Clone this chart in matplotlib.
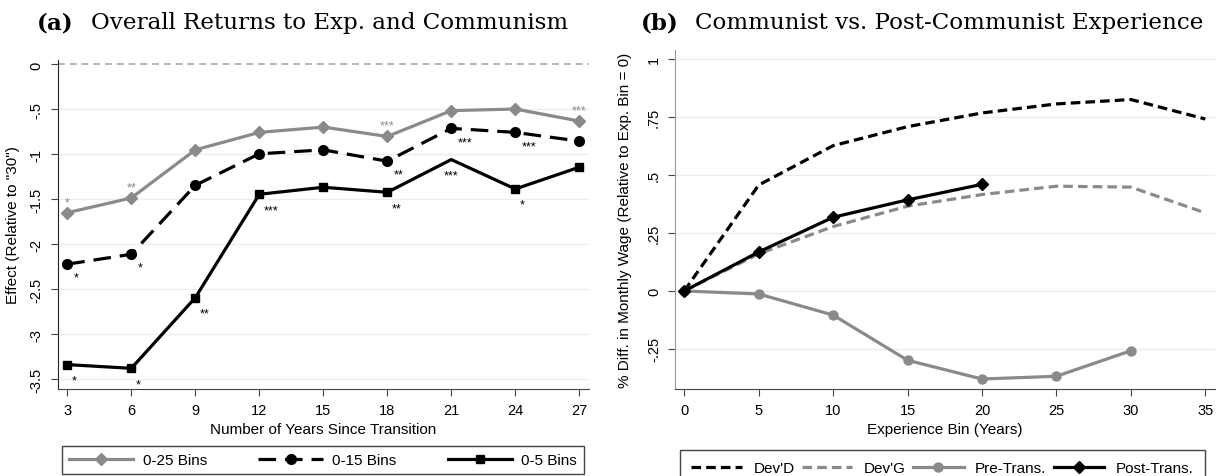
import matplotlib
matplotlib.use("Agg")
import matplotlib.pyplot as plt
from matplotlib.lines import Line2D

# ---------------- data: panel (a) ----------------
years = [3, 6, 9, 12, 15, 18, 21, 24, 27]
bins25 = [-1.648, -1.484, -0.949, -0.755, -0.696, -0.800, -0.513, -0.495, -0.629]
bins15 = [-2.220, -2.110, -1.343, -0.993, -0.949, -1.075, -0.710, -0.755, -0.852]
bins5 = [-3.337, -3.378, -2.593, -1.443, -1.365, -1.421, -1.057, -1.384, -1.142]
stars25 = ["*", "**", "", "", "", "***", "", "", "***"]
stars15 = ["*", "*", "", "", "", "**", "***", "***", ""]
stars5 = ["*", "*", "**", "***", "", "**", "***", "*", ""]
bins5_marker_idx = [0, 1, 2, 3, 4, 5, 7, 8]
xticks_a = [3, 6, 9, 12, 15, 18, 21, 24, 27]
yticks_a = [0, -0.5, -1, -1.5, -2, -2.5, -3, -3.5]
yticklabels_a = ["0", "-.5", "-1", "-1.5", "-2", "-2.5", "-3", "-3.5"]
legend_a = ["0-25 Bins", "0-15 Bins", "0-5 Bins"]

# ---------------- data: panel (b) ----------------
exp_bins = [0, 5, 10, 15, 20, 25, 30, 35]
devd = [0, 0.457, 0.627, 0.709, 0.768, 0.807, 0.826, 0.742]
devg = [0, 0.160, 0.278, 0.366, 0.416, 0.452, 0.448, 0.337]
pre_bins = [0, 5, 10, 15, 20, 25, 30]
pre = [0, -0.013, -0.104, -0.299, -0.380, -0.368, -0.258]
post_bins = [0, 5, 10, 15, 20]
post = [0, 0.168, 0.318, 0.393, 0.460]
xticks_b = [0, 5, 10, 15, 20, 25, 30, 35]
yticks_b = [1, 0.75, 0.5, 0.25, 0, -0.25]
yticklabels_b = ["1", ".75", ".5", ".25", "0", "-.25"]
legend_b = ["Dev'D", "Dev'G", "Pre-Trans.", "Post-Trans."]

# ---------------- style ----------------
W, H = 1225, 477
GREY = "#8a8a8a"
BLACK = "#000000"
GRID = "#e6eff1"
SANS = ["Liberation Sans", "DejaVu Sans"]
SERIF = ["DejaVu Serif"]
plt.rcParams["font.family"] = SANS

fig = plt.figure(figsize=(W / 100, H / 100), dpi=100)


def rect(x0, x1, ytop, ybot):
    return [x0 / W, 1 - ybot / H, (x1 - x0) / W, (ybot - ytop) / H]


axa = fig.add_axes(rect(57.7, 589.3, 61, 390))
axb = fig.add_axes(rect(675, 1215, 50.7, 390))

for ax in (axa, axb):
    for s in ("top", "right"):
        ax.spines[s].set_visible(False)
    ax.tick_params(direction="out", length=5, width=0.8, color="#444444",
                   labelsize=10.5, pad=5)
    ax.set_facecolor("white")

# ---------- panel (a) ----------
axa.set_xlim(2.55, 27.47)
axa.set_ylim(-3.608, 0.05)
axa.set_xticks(xticks_a)
axa.set_yticks(yticks_a)
axa.set_yticklabels(yticklabels_a, rotation=90, va="center")
for t in yticks_a:
    if t != 0:
        axa.axhline(t, color=GRID, lw=1.0, zorder=0)
axa.axhline(0, color="#a0a0a0", lw=1.1, dashes=(4.5, 3.2), zorder=1)
axa.spines["left"].set_color("#222222")
axa.spines["bottom"].set_color("#444444")

axa.plot(years, bins25, color=GREY, lw=2.3, marker="D", ms=6.5, zorder=3)
axa.plot(years, bins15, color=BLACK, lw=2.3, dashes=(5.5, 2.8), marker="o",
         ms=7, zorder=4)
axa.plot(years, bins5, color=BLACK, lw=2.3, marker="s", ms=6,
         markevery=bins5_marker_idx, zorder=5)

for x, y, s in zip(years, bins25, stars25):
    if s:
        axa.annotate(s, xy=(x, y), xytext=(0, 5.6), textcoords="offset points",
                     ha="center", va="baseline", fontsize=9, color=GREY)
for x, y, s in zip(years, bins15, stars15):
    if s:
        axa.annotate(s, xy=(x, y), xytext=(4.7, -12), textcoords="offset points",
                     ha="left", va="baseline", fontsize=9, color=BLACK)
for i, (x, y, s) in enumerate(zip(years, bins5, stars5)):
    if s:
        if i in bins5_marker_idx:
            axa.annotate(s, xy=(x, y), xytext=(2.9, -13.5),
                         textcoords="offset points", ha="left", va="baseline",
                         fontsize=9, color=BLACK)
        else:
            axa.annotate(s, xy=(x, y), xytext=(0, -13.5),
                         textcoords="offset points", ha="center",
                         va="baseline", fontsize=9, color=BLACK)

axa.set_xlabel("Number of Years Since Transition", fontsize=11)
axa.xaxis.set_label_coords(0.5, -(430 - 390) / 329)
axa.xaxis.label.set_va("center")
axa.set_ylabel('Effect (Relative to "30")', fontsize=11)
axa.yaxis.set_label_coords((13 - 57.7) / 531.6, 0.5)
axa.yaxis.label.set_va("center")

# ---------- panel (b) ----------
axb.set_xlim(-0.62, 35.65)
axb.set_ylim(-0.423, 1.041)
axb.set_xticks(xticks_b)
axb.set_yticks(yticks_b)
axb.set_yticklabels(yticklabels_b, rotation=90, va="center")
for t in yticks_b:
    axb.axhline(t, color=GRID, lw=1.0, zorder=0)
axb.spines["left"].set_color("#999999")
axb.spines["bottom"].set_color("#444444")

axb.plot(exp_bins, devd, color=BLACK, lw=2.3, dashes=(3.0, 1.6), zorder=3)
axb.plot(exp_bins, devg, color=GREY, lw=2.3, dashes=(3.0, 1.6), zorder=3)
axb.plot(pre_bins, pre, color=GREY, lw=2.3, marker="o", ms=6.5, zorder=4)
axb.plot(post_bins, post, color=BLACK, lw=2.3, marker="D", ms=6, zorder=5)

axb.set_xlabel("Experience Bin (Years)", fontsize=11)
axb.xaxis.set_label_coords(0.5, -(430 - 390) / 339.3)
axb.xaxis.label.set_va("center")
axb.set_ylabel("% Diff. in Monthly Wage (Relative to Exp. Bin = 0)", fontsize=11)
axb.yaxis.set_label_coords((625 - 675) / 540, 0.5)
axb.yaxis.label.set_va("center")

# ---------- titles ----------
TS = 16.6
fig.text(37 / W, 1 - 29.3 / H, "(a)", family=SERIF, weight="bold", size=TS,
         va="baseline", ha="left")
fig.text(91 / W, 1 - 29.3 / H, "Overall Returns to Exp. and Communism",
         family=SERIF, size=TS, va="baseline", ha="left")
fig.text(641 / W, 1 - 29.3 / H, "(b)", family=SERIF, weight="bold", size=TS,
         va="baseline", ha="left")
fig.text(695 / W, 1 - 29.3 / H, "Communist vs. Post-Communist Experience",
         family=SERIF, size=TS, va="baseline", ha="left")

# ---------- legends ----------
ha = [Line2D([], [], color=GREY, lw=2.3, marker="D", ms=6.5),
      Line2D([], [], color=BLACK, lw=2.3, dashes=(5.5, 2.8), marker="o", ms=7),
      Line2D([], [], color=BLACK, lw=2.3, marker="s", ms=6)]
leg_a = fig.legend(handles=ha, labels=legend_a, loc="upper left",
                   bbox_to_anchor=(62.3 / W, 1 - 447.3 / H, (583.7 - 62.3) / W, 0),
                   mode="expand", ncol=3, fontsize=11, handlelength=4.2,
                   handletextpad=0.6, borderpad=0.45, fancybox=False,
                   framealpha=1, borderaxespad=0)
leg_a.get_frame().set_edgecolor("#444444")
leg_a.get_frame().set_linewidth(1.0)

hb = [Line2D([], [], color=BLACK, lw=2.3, dashes=(3.0, 1.6)),
      Line2D([], [], color=GREY, lw=2.3, dashes=(3.0, 1.6)),
      Line2D([], [], color=GREY, lw=2.3, marker="o", ms=6.5),
      Line2D([], [], color=BLACK, lw=2.3, marker="D", ms=6)]
leg_b = fig.legend(handles=hb, labels=legend_b, loc="upper left",
                   bbox_to_anchor=(680 / W, 1 - 450.7 / H, (1205 - 680) / W, 0),
                   mode="expand", ncol=4, fontsize=11, handlelength=3.3,
                   handletextpad=0.75, borderpad=0.75, fancybox=False,
                   framealpha=1, borderaxespad=0)
leg_b.get_frame().set_edgecolor("#444444")
leg_b.get_frame().set_linewidth(1.0)

fig.savefig("out.png", dpi=100, facecolor="white")
